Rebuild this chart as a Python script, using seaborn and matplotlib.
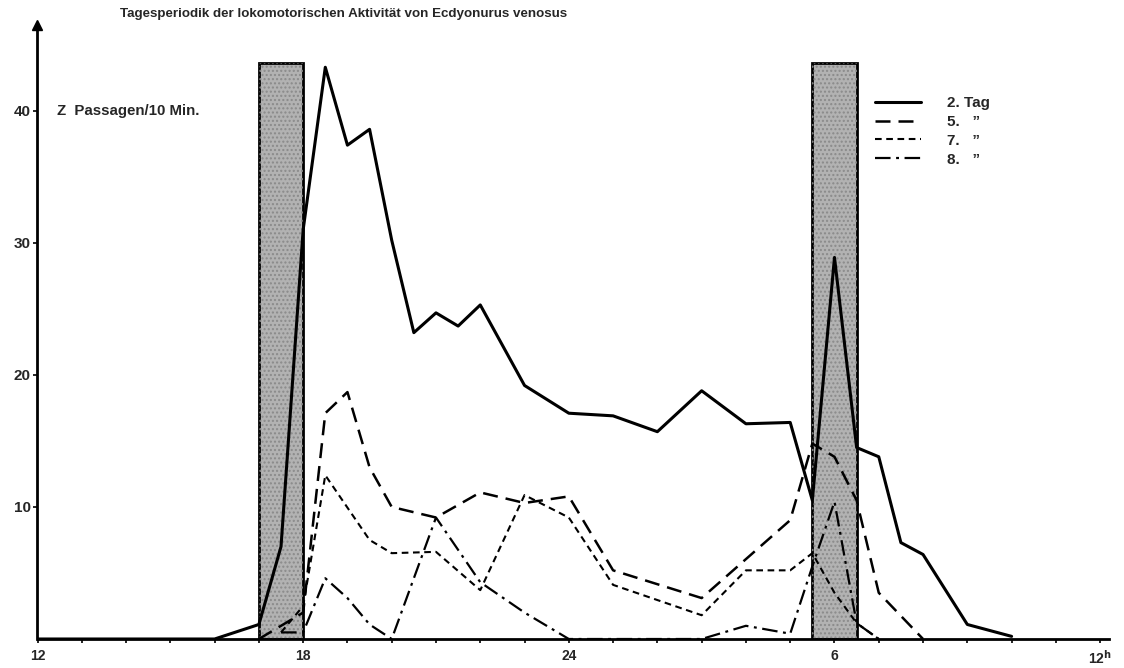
import matplotlib
matplotlib.use("Agg")
import matplotlib.pyplot as plt
import matplotlib.transforms as mtransforms
import seaborn as sns
import pandas as pd
from matplotlib.lines import Line2D

# ---------------- data (hours since 12:00 of day 1; 24 = midnight, 30 = 6 h) ----
tag2_hours = [12, 16, 17, 17.5, 18, 18.5, 19, 19.5, 20, 20.5, 21, 21.5, 22, 23, 24,
              25, 26, 27, 28, 29, 29.5, 30, 30.5, 31, 31.5, 32, 33, 34]
tag2_values = [0, 0, 1.1, 7, 31, 43.3, 37.4, 38.6, 30.2, 23.2, 24.7, 23.7, 25.3, 19.2, 17.1,
               16.9, 15.7, 18.8, 16.3, 16.4, 10.5, 28.9, 14.5, 13.8, 7.3, 6.4, 1.1, 0.2]

tag5_hours = [17, 17.5, 18, 18.5, 19, 19.5, 20, 21, 22, 23, 24, 25, 27, 29, 29.5, 30,
              30.5, 31, 32]
tag5_values = [0, 1, 2, 17.1, 18.7, 13.0, 10.0, 9.2, 11.1, 10.3, 10.8, 5.2, 3.1, 9.0, 14.8,
               13.8, 10.5, 3.5, 0]

tag7_hours = [17.5, 18, 18.5, 19.5, 20, 21, 22, 23, 24, 25, 27, 28, 29, 29.5, 30, 30.5, 31]
tag7_values = [0.5, 2.5, 12.4, 7.5, 6.5, 6.6, 3.7, 10.9, 9.2, 4.1, 1.8, 5.2, 5.2, 6.5, 3.5,
               1.2, 0]

tag8_hours = [17.5, 18, 18.5, 19, 19.5, 20, 21, 22, 23, 24, 27, 28, 29, 29.5, 30, 30.5, 31]
tag8_values = [0.5, 0.5, 4.6, 3.1, 1.1, 0, 9.2, 4.3, 2.0, 0, 0, 1.0, 0.4, 5.5, 10.4, 1.2, 0]

series_names = ["2. Tag", "5.   \u201d", "7.   \u201d", "8.   \u201d"]

dark_periods = [(17.0, 18.0), (29.5, 30.5)]
dark_top = 43.6

x_tick_pos = [12, 18, 24, 30, 36]
x_tick_labels = ["12", "18", "24", "6", r"12$^{\mathbf{h}}$"]
y_tick_pos = [10, 20, 30, 40]

title = "Tagesperiodik der lokomotorischen Aktivität von Ecdyonurus venosus"
ylabel = "Z  Passagen/10 Min."

# ---------------- build table ----------------
frames = []
for name, hx, hv in zip(series_names,
                        [tag2_hours, tag5_hours, tag7_hours, tag8_hours],
                        [tag2_values, tag5_values, tag7_values, tag8_values]):
    frames.append(pd.DataFrame({"Stunde": hx, "Passagen": hv, "Serie": name}))
df = pd.concat(frames, ignore_index=True)

styles = {
    series_names[0]: dict(lw=2.2, ls="-"),
    series_names[1]: dict(lw=1.8, ls=(0, (6, 3.2))),
    series_names[2]: dict(lw=1.5, ls=(0, (3.2, 2.2))),
    series_names[3]: dict(lw=1.6, ls=(0, (7, 2.5, 1.3, 2.5))),
}

# ---------------- figure ----------------
sns.set_theme(style="white")
plt.rcParams["font.family"] = ["Liberation Sans", "DejaVu Sans"]
plt.rcParams["font.weight"] = "bold"

W, H = 1124, 668
fig = plt.figure(figsize=(W / 100, H / 100), dpi=100)
x0, x1, y0, y1 = 37.5, 1109, 639, 25
ax = fig.add_axes([x0 / W, (H - y0) / H, (x1 - x0) / W, (y0 - y1) / H])

# dark periods (shaded bars)
for a, b in dark_periods:
    ax.bar((a + b) / 2, dark_top, width=b - a, color="#b2b2b2", edgecolor="black",
           linewidth=2.0, zorder=1)
    ax.bar((a + b) / 2, dark_top, width=b - a, facecolor="none", edgecolor="#8a8a8a",
           hatch="....", linewidth=0, zorder=1.1)

for name in series_names:
    sub = df[df["Serie"] == name]
    st = styles[name]
    sns.lineplot(data=sub, x="Stunde", y="Passagen", ax=ax, color="black",
                 linewidth=st["lw"], linestyle=st["ls"], sort=False,
                 estimator=None, legend=False, zorder=3)

ax.set_xlim(12, 36.2)
ax.set_ylim(0, 46.5)
ax.set_xlabel("")
ax.set_ylabel("")

for s in ["top", "right"]:
    ax.spines[s].set_visible(False)
for s in ["left", "bottom"]:
    ax.spines[s].set_linewidth(2.0)
    ax.spines[s].set_color("black")

ax.set_xticks(x_tick_pos)
ax.set_xticklabels(x_tick_labels, fontsize=10, fontweight="bold")
ax.set_xticks(range(12, 37), minor=True)
ax.tick_params(axis="x", which="both", direction="out", length=3, width=1.2,
               color="black", pad=4, bottom=True)
ax.set_yticks(y_tick_pos)
ax.set_yticklabels([str(v) for v in y_tick_pos], fontsize=11, fontweight="bold")
ax.tick_params(axis="y", direction="out", length=3, width=1.2, color="black",
               pad=2, left=True)
ax.grid(False)

# arrow at top of y axis
ax.plot([0], [1], marker="^", color="black", markersize=7, transform=ax.transAxes,
        clip_on=False)

# y-axis caption (next to the 40 tick)
cap_tr = mtransforms.blended_transform_factory(fig.transFigure, ax.transData)
ax.text(57 / W, 40, ylabel, transform=cap_tr, fontsize=10.8, fontweight="bold",
        va="center", ha="left")

fig.text(120 / W, 1 - 14 / H, title, fontsize=9.6, fontweight="bold",
         ha="left", va="center")

# legend
handles = [Line2D([], [], color="black", linewidth=styles[n]["lw"],
                  linestyle=styles[n]["ls"]) for n in series_names]
lx = (875 - x0) / (x1 - x0)
ly = (y0 - 96) / (y0 - y1)
ax.legend(handles, series_names, loc="upper left", bbox_to_anchor=(lx, ly),
          frameon=False, borderpad=0, borderaxespad=0, handlelength=3.0,
          handletextpad=1.7, labelspacing=0.32,
          prop={"size": 11, "weight": "bold"})

fig.savefig("out.png", dpi=100)
